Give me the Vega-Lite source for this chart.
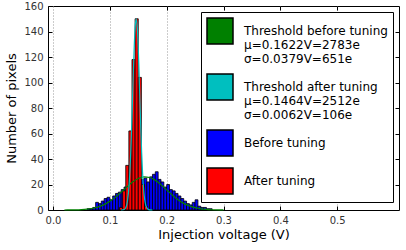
{
  "$schema": "https://vega.github.io/schema/vega-lite/v6.json",
  "width": 351,
  "height": 204,
  "autosize": {"type": "none"},
  "padding": {"left": 48, "top": 6, "right": 7, "bottom": 40},
  "background": "white",
  "config": {
    "view": {"stroke": "black", "strokeWidth": 1},
    "font": "DejaVu Sans",
    "axis": {
      "domain": false,
      "grid": false,
      "tickColor": "black",
      "tickSize": -4,
      "labelFont": "DejaVu Sans",
      "labelFontSize": 10,
      "labelColor": "#333333",
      "labelPadding": 9,
      "titleFont": "DejaVu Sans",
      "titleFontSize": 13,
      "titleFontWeight": "normal",
      "titleColor": "black"
    },
    "legend": {
      "orient": "top-right",
      "offset": 6,
      "strokeColor": "black",
      "fillColor": "white",
      "padding": 5,
      "cornerRadius": 0,
      "labelFont": "DejaVu Sans",
      "labelFontSize": 12,
      "labelColor": "black",
      "labelLimit": 220,
      "labelOffset": 10,
      "rowPadding": 6,
      "symbolSize": 676,
      "symbolOpacity": 1
    }
  },
  "datasets": {
    "hist": [
      {"x0": 0.060, "x1": 0.065, "count": 1, "series": "Before tuning"},
      {"x0": 0.065, "x1": 0.070, "count": 1, "series": "Before tuning"},
      {"x0": 0.070, "x1": 0.075, "count": 2, "series": "Before tuning"},
      {"x0": 0.075, "x1": 0.080, "count": 6, "series": "Before tuning"},
      {"x0": 0.080, "x1": 0.085, "count": 5, "series": "Before tuning"},
      {"x0": 0.085, "x1": 0.090, "count": 7, "series": "Before tuning"},
      {"x0": 0.090, "x1": 0.095, "count": 9, "series": "Before tuning"},
      {"x0": 0.095, "x1": 0.100, "count": 10, "series": "Before tuning"},
      {"x0": 0.100, "x1": 0.105, "count": 8, "series": "Before tuning"},
      {"x0": 0.105, "x1": 0.110, "count": 11, "series": "Before tuning"},
      {"x0": 0.110, "x1": 0.115, "count": 13, "series": "Before tuning"},
      {"x0": 0.115, "x1": 0.120, "count": 14, "series": "Before tuning"},
      {"x0": 0.120, "x1": 0.125, "count": 16, "series": "Before tuning"},
      {"x0": 0.125, "x1": 0.130, "count": 18, "series": "Before tuning"},
      {"x0": 0.130, "x1": 0.135, "count": 20, "series": "Before tuning"},
      {"x0": 0.135, "x1": 0.140, "count": 24, "series": "Before tuning"},
      {"x0": 0.140, "x1": 0.145, "count": 23, "series": "Before tuning"},
      {"x0": 0.145, "x1": 0.150, "count": 25, "series": "Before tuning"},
      {"x0": 0.150, "x1": 0.155, "count": 22, "series": "Before tuning"},
      {"x0": 0.155, "x1": 0.160, "count": 24, "series": "Before tuning"},
      {"x0": 0.160, "x1": 0.165, "count": 25, "series": "Before tuning"},
      {"x0": 0.165, "x1": 0.170, "count": 22, "series": "Before tuning"},
      {"x0": 0.170, "x1": 0.175, "count": 26, "series": "Before tuning"},
      {"x0": 0.175, "x1": 0.180, "count": 28, "series": "Before tuning"},
      {"x0": 0.180, "x1": 0.185, "count": 30, "series": "Before tuning"},
      {"x0": 0.185, "x1": 0.190, "count": 24, "series": "Before tuning"},
      {"x0": 0.190, "x1": 0.195, "count": 22, "series": "Before tuning"},
      {"x0": 0.195, "x1": 0.200, "count": 18, "series": "Before tuning"},
      {"x0": 0.200, "x1": 0.205, "count": 20, "series": "Before tuning"},
      {"x0": 0.205, "x1": 0.210, "count": 16, "series": "Before tuning"},
      {"x0": 0.210, "x1": 0.215, "count": 15, "series": "Before tuning"},
      {"x0": 0.215, "x1": 0.220, "count": 13, "series": "Before tuning"},
      {"x0": 0.220, "x1": 0.225, "count": 11, "series": "Before tuning"},
      {"x0": 0.225, "x1": 0.230, "count": 9, "series": "Before tuning"},
      {"x0": 0.230, "x1": 0.235, "count": 7, "series": "Before tuning"},
      {"x0": 0.235, "x1": 0.240, "count": 5, "series": "Before tuning"},
      {"x0": 0.240, "x1": 0.245, "count": 4, "series": "Before tuning"},
      {"x0": 0.245, "x1": 0.250, "count": 6, "series": "Before tuning"},
      {"x0": 0.250, "x1": 0.255, "count": 8, "series": "Before tuning"},
      {"x0": 0.255, "x1": 0.260, "count": 3, "series": "Before tuning"},
      {"x0": 0.260, "x1": 0.265, "count": 2, "series": "Before tuning"},
      {"x0": 0.265, "x1": 0.270, "count": 2, "series": "Before tuning"},
      {"x0": 0.270, "x1": 0.275, "count": 1, "series": "Before tuning"},
      {"x0": 0.275, "x1": 0.280, "count": 1, "series": "Before tuning"},
      {"x0": 0.1170, "x1": 0.1225, "count": 2, "series": "After tuning"},
      {"x0": 0.1225, "x1": 0.1280, "count": 15, "series": "After tuning"},
      {"x0": 0.1280, "x1": 0.1335, "count": 35, "series": "After tuning"},
      {"x0": 0.1335, "x1": 0.1390, "count": 62, "series": "After tuning"},
      {"x0": 0.1390, "x1": 0.1445, "count": 118, "series": "After tuning"},
      {"x0": 0.1445, "x1": 0.1500, "count": 150, "series": "After tuning"},
      {"x0": 0.1500, "x1": 0.1555, "count": 104, "series": "After tuning"},
      {"x0": 0.1555, "x1": 0.1610, "count": 20, "series": "After tuning"},
      {"x0": 0.1610, "x1": 0.1665, "count": 3, "series": "After tuning"}
    ],
    "fitBefore": [
      {"x": 0.02, "y": 0.01}, {"x": 0.03, "y": 0.06}, {"x": 0.04, "y": 0.14},
      {"x": 0.05, "y": 0.33}, {"x": 0.06, "y": 0.68}, {"x": 0.07, "y": 1.35},
      {"x": 0.08, "y": 2.5}, {"x": 0.09, "y": 4.2}, {"x": 0.10, "y": 6.8},
      {"x": 0.11, "y": 10.1}, {"x": 0.12, "y": 14.0}, {"x": 0.13, "y": 18.1},
      {"x": 0.14, "y": 21.9}, {"x": 0.15, "y": 24.7}, {"x": 0.16, "y": 25.95},
      {"x": 0.17, "y": 25.5}, {"x": 0.18, "y": 23.3}, {"x": 0.19, "y": 19.9},
      {"x": 0.20, "y": 15.8}, {"x": 0.21, "y": 11.7}, {"x": 0.22, "y": 8.1},
      {"x": 0.23, "y": 5.2}, {"x": 0.24, "y": 3.2}, {"x": 0.25, "y": 1.8},
      {"x": 0.26, "y": 0.93}, {"x": 0.27, "y": 0.45}, {"x": 0.28, "y": 0.2},
      {"x": 0.30, "y": 0.035}
    ],
    "fitAfter": [
      {"x": 0.120, "y": 0.02}, {"x": 0.125, "y": 0.4}, {"x": 0.128, "y": 1.8},
      {"x": 0.131, "y": 6.9}, {"x": 0.134, "y": 20.3}, {"x": 0.137, "y": 47.6},
      {"x": 0.1385, "y": 66.6}, {"x": 0.140, "y": 88}, {"x": 0.1415, "y": 109.8},
      {"x": 0.143, "y": 129}, {"x": 0.1445, "y": 143}, {"x": 0.1464, "y": 150},
      {"x": 0.1485, "y": 141.7}, {"x": 0.150, "y": 127}, {"x": 0.1515, "y": 106.9},
      {"x": 0.153, "y": 85}, {"x": 0.1545, "y": 63.9}, {"x": 0.156, "y": 45},
      {"x": 0.1575, "y": 30.2}, {"x": 0.159, "y": 19}, {"x": 0.1605, "y": 11.3},
      {"x": 0.162, "y": 6.3}, {"x": 0.165, "y": 1.7}, {"x": 0.170, "y": 0.1},
      {"x": 0.175, "y": 0}
    ]
  },
  "layer": [
    {
      "data": {"name": "hist"},
      "transform": [{"filter": "datum.series == 'Before tuning'"}],
      "mark": {"type": "bar", "orient": "vertical", "stroke": "black", "strokeWidth": 0.8, "opacity": 1},
      "encoding": {
        "x": {
          "field": "x0", "type": "quantitative",
          "scale": {"domain": [0, 0.6], "nice": false, "zero": false},
          "axis": {
            "orient": "bottom",
            "values": [0, 0.1, 0.2, 0.3, 0.4, 0.5],
            "format": ".1f",
            "labelFlush": false,
            "grid": true,
            "gridDash": [1, 2],
            "gridColor": "#999999",
            "gridWidth": 1,
            "title": "Injection voltage (V)",
            "titlePadding": 3
          }
        },
        "x2": {"field": "x1"},
        "y": {
          "field": "count", "type": "quantitative",
          "scale": {"domain": [0, 160], "nice": false},
          "axis": {
            "orient": "left",
            "values": [0, 20, 40, 60, 80, 100, 120, 140, 160],
            "format": "d",
            "labelFlush": false,
            "title": "Number of pixels",
            "titlePadding": 5
          }
        },
        "color": {
          "field": "series", "type": "nominal",
          "scale": {
            "domain": [
              "Threshold before tuning|μ=0.1622V=2783e|σ=0.0379V=651e",
              "Threshold after tuning|μ=0.1464V=2512e|σ=0.0062V=106e",
              "Before tuning",
              "After tuning"
            ],
            "range": ["#008000", "#00bfbf", "#0000ff", "#ff0000"]
          },
          "legend": {
            "title": null,
            "labelExpr": "split(datum.label, '|')",
            "encode": {
              "symbols": {
                "update": {
                  "shape": {"signal": "datum.index < 2 ? 'M-0.72,-0.06H0.72V0.06H-0.72Z' : 'M-1,-0.35H1V0.35H-1Z'"},
                  "stroke": {"value": "black"},
                  "strokeWidth": {"signal": "datum.index < 2 ? 0 : 0.8"},
                  "opacity": {"value": 1}
                }
              },
              "labels": {
                "update": {
                  "lineHeight": {"value": 13.5},
                  "dy": {"signal": "datum.index < 2 ? -13.5 : 0"}
                }
              }
            }
          }
        }
      }
    },
    {
      "data": {"name": "hist"},
      "transform": [{"filter": "datum.series == 'After tuning'"}],
      "mark": {"type": "bar", "orient": "vertical", "fill": "#ff0000", "stroke": "black", "strokeWidth": 0.8, "opacity": 1},
      "encoding": {
        "x": {"field": "x0", "type": "quantitative", "axis": null},
        "x2": {"field": "x1"},
        "y": {"field": "count", "type": "quantitative", "axis": null}
      }
    },
    {
      "data": {"name": "fitBefore"},
      "mark": {"type": "line", "stroke": "#008000", "strokeWidth": 1.2, "interpolate": "monotone"},
      "encoding": {
        "x": {
          "field": "x", "type": "quantitative",
          "axis": {"orient": "top", "labels": false, "title": null, "grid": false, "values": [0.1, 0.2, 0.3, 0.4, 0.5]}
        },
        "y": {
          "field": "y", "type": "quantitative",
          "axis": {"orient": "right", "labels": false, "title": null, "grid": false, "values": [20, 40, 60, 80, 100, 120, 140]}
        }
      }
    },
    {
      "data": {"name": "fitAfter"},
      "mark": {"type": "line", "stroke": "#00bfbf", "strokeWidth": 1.2, "interpolate": "monotone"},
      "encoding": {
        "x": {"field": "x", "type": "quantitative", "axis": null},
        "y": {"field": "y", "type": "quantitative", "axis": null}
      }
    }
  ]
}
